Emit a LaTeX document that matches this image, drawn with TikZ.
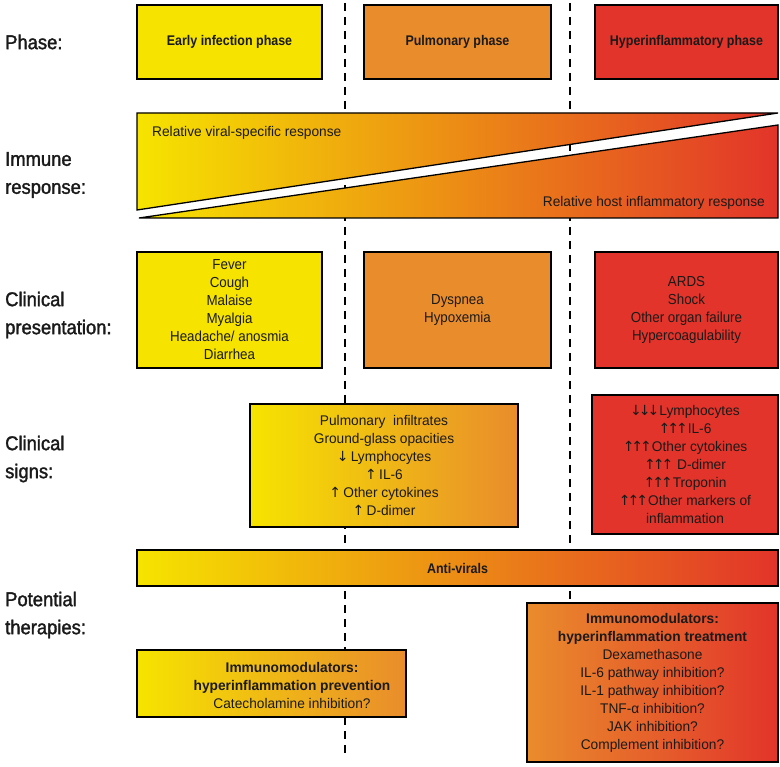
\documentclass[tikz,border=0pt]{standalone}
\usepackage{fontspec}
\setmainfont{Liberation Sans}
\newfontfamily\condf[FakeStretch=0.92]{Liberation Sans}
\newfontfamily\bcondf[FakeStretch=0.89]{Liberation Sans}
\newfontfamily\labf[FakeStretch=0.92,FakeBold=1.6]{Liberation Sans}
\newfontfamily\narf[FakeStretch=0.98]{Liberation Sans}
\newfontfamily\arrf{DejaVu Sans}
\newcommand{\myup}{{\arrf\fontsize{14}{18}\selectfont ↑}}
\newcommand{\mydn}{{\arrf\fontsize{14}{18}\selectfont ↓}}
\newcommand{\upthree}{{\arrf\fontsize{14}{18}\selectfont ↑\kern-3pt↑\kern-3pt↑}}
\newcommand{\dnthree}{{\arrf\fontsize{14}{18}\selectfont ↓\kern-3pt↓\kern-3pt↓}}
\definecolor{cY}{HTML}{F6E400}
\definecolor{cO}{HTML}{E98C2C}
\definecolor{cR}{HTML}{E2342A}
\definecolor{cM}{HTML}{EB9E28}
\definecolor{cT}{HTML}{1A1A1A}
\begin{document}
\begin{tikzpicture}[x=1pt,y=-1pt,
  box/.style={draw=black, line width=1.3pt, inner sep=0pt, align=center, text=cT},
  condtxt/.style={font=\condf\fontsize{14.5}{18}\selectfont},
  boldtxt/.style={font=\bcondf\bfseries\fontsize{14}{18}\selectfont},
  regtxt/.style={font=\narf\fontsize{14}{18}\selectfont, text=cT},
  lab/.style={anchor=west, align=left, inner sep=0pt, text=cT, font=\labf\fontsize{20}{28}\selectfont},
  vline/.style={dash pattern=on 8pt off 6pt, line width=1.2pt},
  tri/.style={draw=black, line width=1.3pt, left color=cY, middle color=cM, right color=cR},
]
\useasboundingbox (0,0) rectangle (780,767);
\fill[white] (0,0) rectangle (780,767);

% dashed separators
\coordinate (d1t) at (345,3);
\coordinate (d1b) at (345,757);
\coordinate (d2t) at (570,3);
\coordinate (d2b) at (570,757);
\draw[vline] (d1t) -- (d1b);
\draw[vline] (d2t) -- (d2b);

% left labels
\node[lab] (lphase) at (5,42) {Phase:};
\node[lab] (limm) at (5,175) {Immune\\response:};
\node[lab] (lcp) at (5,315) {Clinical\\presentation:};
\node[lab] (lcs) at (5,459) {Clinical\\signs:};
\node[lab] (lpt) at (5,615) {Potential\\therapies:};

% phase boxes
\node[box, boldtxt, fill=cY, minimum width=185pt, minimum height=74pt] (p1) at (229.5,42) {Early infection phase};
\node[box, boldtxt, fill=cO, minimum width=187pt, minimum height=74pt] (p2) at (457.5,42) {Pulmonary phase};
\node[box, boldtxt, fill=cR, minimum width=183pt, minimum height=74pt] (p3) at (686.5,42) {Hyperinflammatory phase};

% immune response wedges
\shadedraw[tri] (137,113) -- (778,113) -- (137,210) -- cycle;
\shadedraw[tri] (778,125) -- (778,218) -- (139,218) -- cycle;
\node[anchor=west, inner sep=0pt, regtxt] (vr) at (152,133) {Relative viral-specific response};
\node[anchor=east, inner sep=0pt, regtxt] (hr) at (765,203) {Relative host inflammatory response};

% clinical presentation
\node[box, condtxt, fill=cY, minimum width=185pt, minimum height=116pt] (c1) at (229.5,310)
  {Fever\\Cough\\Malaise\\Myalgia\\Headache/ anosmia\\Diarrhea};
\node[box, condtxt, fill=cO, minimum width=187pt, minimum height=116pt] (c2) at (457.5,310)
  {Dyspnea\\Hypoxemia};
\node[box, condtxt, fill=cR, minimum width=183pt, minimum height=116pt] (c3) at (686.5,310)
  {ARDS\\Shock\\Other organ failure\\Hypercoagulability};

% clinical signs
\node[box, regtxt, left color=cY, right color=cO, minimum width=268pt, minimum height=123pt] (s1) at (384,465.5)
  {Pulmonary\ \ infiltrates\\Ground-glass opacities\\\mydn\,Lymphocytes\\\myup\,IL-6\\\myup\,Other cytokines\\\myup\,D-dimer};
\node[box, regtxt, fill=cR, minimum width=186pt, minimum height=139pt] (s2) at (685,464.5)
  {\dnthree Lymphocytes\\\upthree IL-6\\\upthree Other cytokines\\\upthree\ D-dimer\\\upthree Troponin\\\upthree Other markers of\\inflammation};

% anti-virals
\node[box, boldtxt, left color=cY, middle color=cM, right color=cR, minimum width=641pt, minimum height=36pt] (av) at (457.5,568) {Anti-virals};

% therapies
\node[box, regtxt, left color=cO, right color=cR, minimum width=251pt, minimum height=159pt] (tr) at (652.5,682.5)
  {\textbf{Immunomodulators:}\\\textbf{hyperinflammation treatment}\\Dexamethasone\\IL-6 pathway inhibition?\\IL-1 pathway inhibition?\\TNF-α inhibition?\\JAK inhibition?\\Complement inhibition?};
\node[box, left color=cY, right color=cO, minimum width=269pt, minimum height=67pt] (tl) at (271.5,683.5) {};
\node[regtxt, align=center, inner sep=0pt] (tlt) at (292,685.5)
  {\textbf{Immunomodulators:}\\\textbf{hyperinflammation prevention}\\Catecholamine inhibition?};
\end{tikzpicture}
\end{document}
